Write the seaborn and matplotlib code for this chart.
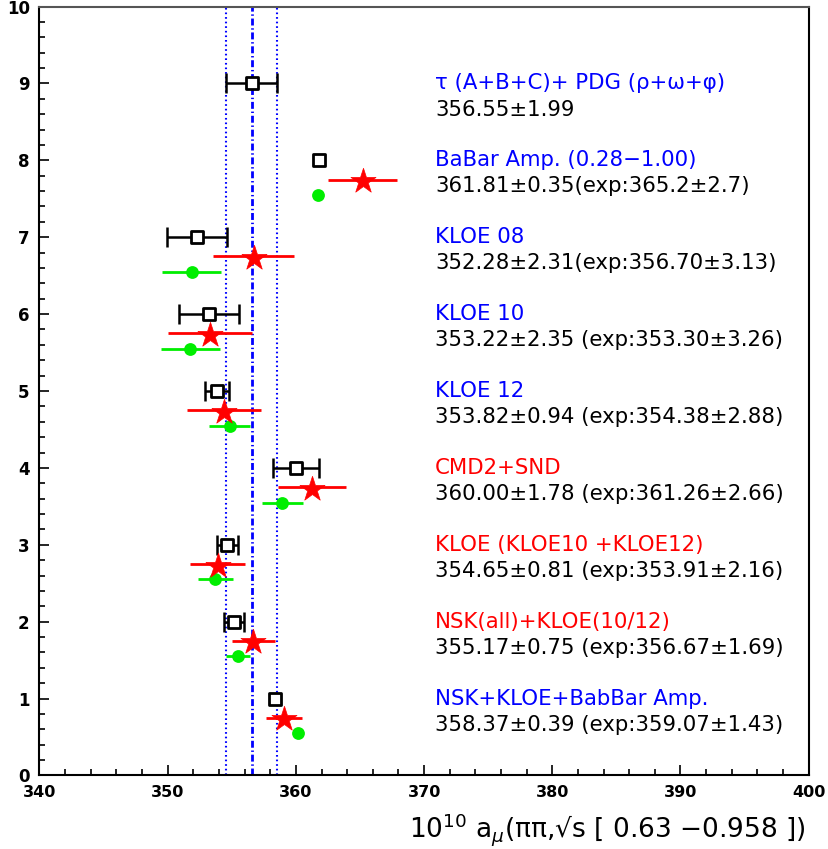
import matplotlib
matplotlib.use("Agg")
import matplotlib.pyplot as plt
import seaborn as sns
import pandas as pd
import numpy as np
from matplotlib.ticker import MultipleLocator

# ---- data ----
rows = [9, 8, 7, 6, 5, 4, 3, 2, 1]
sq_val = [356.55, 361.81, 352.28, 353.22, 353.82, 360.00, 354.65, 355.17, 358.37]
sq_err = [1.99, 0.35, 2.31, 2.35, 0.94, 1.78, 0.81, 0.75, 0.39]

star_rows = [8, 7, 6, 5, 4, 3, 2, 1]
star_val = [365.2, 356.70, 353.30, 354.38, 361.26, 353.91, 356.67, 359.07]
star_err = [2.7, 3.13, 3.26, 2.88, 2.66, 2.16, 1.69, 1.43]

green_val = [361.75, 351.87, 351.77, 354.84, 358.94, 353.73, 355.49, 360.19]
green_err = [0.30, 2.29, 2.28, 1.58, 1.60, 1.34, 0.94, 0.40]

band_center = 356.55
band_err = 1.99

labels = ["\u03c4 (A+B+C)+ PDG (\u03c1+\u03c9+\u03c6)",
          "BaBar Amp. (0.28\u22121.00)",
          "KLOE 08",
          "KLOE 10",
          "KLOE 12",
          "CMD2+SND",
          "KLOE (KLOE10 +KLOE12)",
          "NSK(all)+KLOE(10/12)",
          "NSK+KLOE+BabBar Amp."]
values = ["356.55\u00b11.99",
          "361.81\u00b10.35(exp:365.2\u00b12.7)",
          "352.28\u00b12.31(exp:356.70\u00b13.13)",
          "353.22\u00b12.35 (exp:353.30\u00b13.26)",
          "353.82\u00b10.94 (exp:354.38\u00b12.88)",
          "360.00\u00b11.78 (exp:361.26\u00b12.66)",
          "354.65\u00b10.81 (exp:353.91\u00b12.16)",
          "355.17\u00b10.75 (exp:356.67\u00b11.69)",
          "358.37\u00b10.39 (exp:359.07\u00b11.43)"]
label_colors = ["#0000ff", "#0000ff", "#0000ff", "#0000ff", "#0000ff",
                "#ff0000", "#ff0000", "#ff0000", "#0000ff"]

xticks = [340, 350, 360, 370, 380, 390, 400]
yticks = list(range(0, 11))

# ---- plot ----
sns.set_theme(style="white")
plt.rcParams['font.family'] = ['DejaVu Sans']
plt.rcParams['text.color'] = 'black'
plt.rcParams['xtick.color'] = 'black'
plt.rcParams['ytick.color'] = 'black'
plt.rcParams['axes.labelcolor'] = 'black'

fig = plt.figure(figsize=(8.29, 8.49), dpi=100)
ax = fig.add_axes([0.0476, 0.0866, 0.9279, 0.9057])

star_y = [r - 0.27 for r in star_rows]
green_y = [r - 0.45 for r in star_rows]

# vertical band lines
ax.axvline(band_center, color="#0000ff", lw=2, ls=(0, (2.5, 1.0, 0.5, 1.0)), zorder=1)
ax.axvline(band_center - band_err, color="#0000ff", lw=1.5, ls=(0, (0.8, 1.4)), zorder=1)
ax.axvline(band_center + band_err, color="#0000ff", lw=1.5, ls=(0, (0.8, 1.4)), zorder=1)

# error bars (errors hidden by the marker are not drawn, as in the original)
sq_x = np.array(sq_val)
sq_e = np.array(sq_err)
sq_r = np.array(rows)
vis = sq_e > 0.5
ax.errorbar(sq_x[vis], sq_r[vis], xerr=sq_e[vis], fmt="none", ecolor="black",
            elinewidth=1.8, capsize=7, capthick=1.8, zorder=2)
ax.errorbar(star_val, [r - 0.25 for r in star_rows], xerr=star_err, fmt="none",
            ecolor="#ff0000", elinewidth=2, capsize=0, zorder=2)
ax.errorbar(green_val, green_y, xerr=green_err, fmt="none",
            ecolor="#00ee00", elinewidth=2, capsize=0, zorder=2)

df_sq = pd.DataFrame({"x": sq_val, "y": rows})
df_star = pd.DataFrame({"x": star_val, "y": star_y})
df_green = pd.DataFrame({"x": green_val, "y": green_y})

sns.scatterplot(data=df_sq, x="x", y="y", ax=ax, marker="s", s=80,
                facecolor="white", edgecolor="black", linewidth=2, zorder=4)
sns.scatterplot(data=df_star, x="x", y="y", ax=ax, marker="*", s=360,
                color="#ff0000", edgecolor="#ff0000", linewidth=0.5, zorder=4)
sns.scatterplot(data=df_green, x="x", y="y", ax=ax, marker="o", s=85,
                color="#00ee00", edgecolor="#00ee00", linewidth=0, zorder=3)

# text labels
for r, lab, val, c in zip(rows, labels, values, label_colors):
    ax.text(370.85, r, lab, color=c, fontsize=15.3, ha="left", va="center")
    ax.text(370.85, r - 0.34, val, color="black", fontsize=15.3, ha="left", va="center")

ax.set_xlim(340, 400)
ax.set_ylim(0, 10)
ax.set_xticks(xticks)
ax.set_yticks(yticks)
ax.set_xticklabels([str(t) for t in xticks], fontsize=11.5, fontweight="bold")
ax.set_yticklabels([str(t) for t in yticks], fontsize=12, fontweight="bold")
ax.xaxis.set_minor_locator(MultipleLocator(2))
ax.yaxis.set_minor_locator(MultipleLocator(0.2))
ax.tick_params(axis="both", which="major", direction="in", length=7, width=1.2,
               color="black", bottom=True, left=True, top=False, right=False)
ax.tick_params(axis="both", which="minor", direction="in", length=4, width=1.2,
               color="black", bottom=True, left=True, top=False, right=False)
ax.tick_params(axis="x", which="major", pad=7)
ax.tick_params(axis="y", which="major", pad=7)
for sp in ax.spines.values():
    sp.set_color("black")
    sp.set_linewidth(1.5)
ax.spines["top"].set_color("#555555")

ax.set_xlabel("")
ax.set_ylabel("")
fig.text(0.972, 0.023, "10$^{10}$ a$_{\\mu}$(\u03c0\u03c0,\u221as [ 0.63 \u22120.958 ])",
         ha="right", va="center", fontsize=19, color="black")

fig.savefig("out.png", dpi=100)
